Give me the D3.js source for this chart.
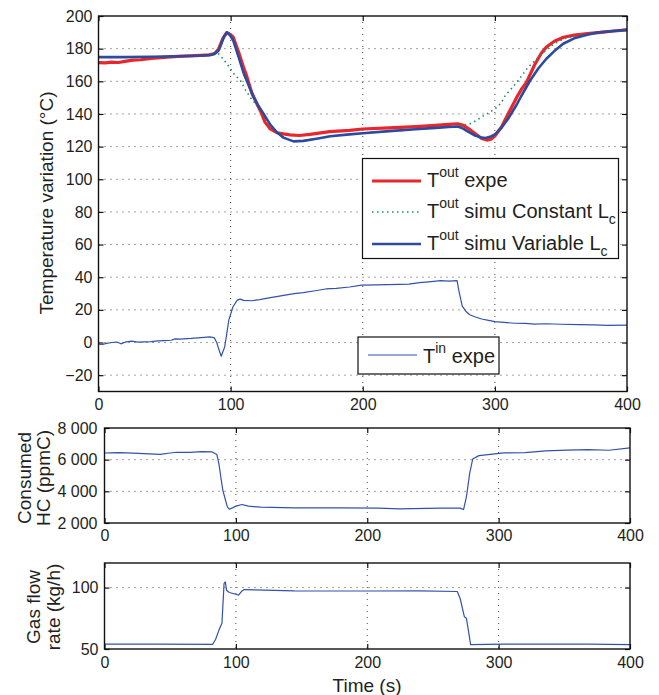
<!DOCTYPE html>
<html lang="en">
<head>
<meta charset="UTF-8">
<title>Temperature, consumed HC and gas flow</title>
<script src="https://d3js.org/d3.v7.min.js"></script>
<style>
  body { margin: 0; background: #fff; }
  svg text { font-family: "Liberation Sans", Arial, Helvetica, sans-serif; fill: #231f20; }
  .axis text { font-size: 16px; }
  .axis line { stroke: #111; stroke-width: 1.2; }
  .axis path { display: none; }
  .grid line { stroke: #444; stroke-width: 1; stroke-dasharray: 1,5; }
  .label { font-size: 19px; }
  .legtext { font-size: 20px; }
</style>
</head>
<body>
<div id="chart"></div>
<script>
// ---- data: [time (s), value] ----
const timeTicks = [0, 100, 200, 300, 400];
const tempTicks = [-20, 0, 20, 40, 60, 80, 100, 120, 140, 160, 180, 200];
const hcTicks = [2000, 4000, 6000, 8000];
const flowTicks = [50, 100];

const toutExpe = [[0,171.5],[5,171.3],[10,171.8],[15,171.5],[20,172.2],[26,173],[32,173.2],[40,174],[52,174.8],[60,175.3],[70,175.6],[77,175.9],[84,176.2],[88,177],[91,180],[94,186],[97,189.8],[100,188.5],[102,187],[106,178],[110,168],[112,163.6],[116,153],[120,146],[122.5,142],[126,135],[130,130.8],[135,128.5],[140,127.8],[145,127.2],[152,126.8],[160,127.5],[175,129.2],[190,130],[200,130.8],[220,131.5],[240,132.3],[255,133],[265,133.6],[272,134],[276,133],[280,131],[285,128],[290,125],[294,124],[297,124.5],[300,126.5],[305,132],[310,140],[316.6,150.3],[320,155],[324,159.5],[330,170],[335,177],[339,181],[345,184.5],[352,187],[360,188.3],[370,189.2],[380,190],[390,190.8],[400,191.5]];

const toutConst = [[0,174.8],[20,174.8],[40,175],[60,175.3],[80,175.8],[86,176],[88,176.5],[90.7,177],[95,173],[99.8,167.8],[103,164],[107.4,160.5],[111,155],[115,150],[118,147],[121,144.5],[125,140],[130,133.5],[135,128.8],[140,125.5],[147.6,123.2],[155,123.5],[165,124.8],[175.4,126.3],[190,127.5],[200,128.2],[220,129.5],[240,130.6],[255,131.5],[265,132],[272,132.3],[276,133.2],[281.3,134],[286,136],[290,138.2],[295,140.5],[301.5,144],[305,147],[308,151.5],[312,155],[316.6,159.5],[320,163],[325,168.5],[331.7,173.8],[336,177],[340,180],[345,183],[352,186],[360,187.8],[370,189],[380,190],[390,190.8],[400,191.5]];

const toutVar = [[0,174.8],[20,174.8],[40,175],[60,175.3],[80,175.8],[86,176.3],[89,177.5],[91,179],[93,183],[95,187.5],[97.3,190],[99,189],[102,185],[106,175],[110,164.7],[117,151],[121,145],[125,140],[130,133.5],[135,128.8],[140,125.5],[147.6,123.2],[155,123.5],[165,124.8],[175.4,126.3],[190,127.5],[200,128.2],[220,129.5],[240,130.6],[255,131.5],[265,132],[272,132.3],[276,131],[280,129],[285,126.8],[290,125.5],[293,125.3],[297,126.2],[300,127.5],[305,131.5],[310,137],[316,145],[320,151],[326.7,160.5],[333,168],[339,173.8],[345,178.5],[351.7,183],[360,186.3],[370,188.5],[377,189.8],[390,190.8],[400,191.5]];

const tinExpe = [[0,-1],[3,-1.2],[6,-0.5],[10,0],[14,0.3],[17,-0.8],[20,0.2],[25,0.8],[30,0.3],[40,0.5],[45,1],[50,1.2],[55,1.4],[58,2.2],[62,2.1],[70,2.5],[75,2.9],[80,3.2],[84,3.5],[87.5,3],[89.5,0],[91,-4],[92.9,-8.4],[94,-6],[95.5,-2.7],[97,5],[98.6,13.7],[101.8,21.9],[105,26],[107.2,26.6],[109.8,25.8],[116,25.6],[122,26.3],[129,27.4],[138,28.6],[148,30],[155,30.6],[164,31.7],[172,32.8],[180,33.2],[190,34],[199,35.2],[210,35.3],[227.5,35.6],[235,35.8],[243,36.7],[250,37.2],[259,37.9],[265,37.6],[271.4,37.9],[272.7,32],[275.3,22.3],[278.4,18.8],[281,17],[284.8,15.8],[290,14.4],[294.3,13.7],[300,12.8],[307,12.3],[315,11.8],[323,11.7],[330,11.3],[339,11.5],[350,11.2],[364,11],[375,10.8],[385,10.5],[400,10.6]];

const consumedHC = [[0,6420],[10,6440],[17,6426],[30,6380],[42.5,6340],[50,6420],[55,6468],[65,6460],[74,6510],[82,6490],[85.5,6320],[87,5787],[90,4085],[93.5,3020],[95,2872],[97.4,2957],[100,3064],[104.7,3170],[109.5,3064],[119,3000],[144.6,2957],[180,2950],[208.5,2936],[224.4,2893],[256.3,2936],[270.7,2936],[273.3,2850],[275.5,3660],[278,5149],[280.3,6043],[285,6255],[304,6426],[320,6450],[336,6553],[352,6600],[368,6638],[384,6596],[400,6745]];

const gasFlow = [[0,54],[40,54],[82.4,53.8],[84.6,58],[87.2,65.6],[89.4,71],[91,103.2],[92,104.6],[92.9,97.8],[95,96],[100,94.6],[102,93.8],[104.7,97.3],[106.3,98.4],[144.6,97.3],[200,97.2],[240,97.3],[268.5,96.8],[270.7,91.1],[273.9,76.3],[275.5,75],[278.7,53.5],[304,54],[368,54],[400,53.5]];

const red = "#e8262b", blue = "#2c4a9e", green = "#22896a", thinBlue = "#3451aa";

const W = 659, H = 695;
const svg = d3.select("#chart").append("svg").attr("width", W).attr("height", H);
svg.append("rect").attr("width", W).attr("height", H).attr("fill", "#fff");

function panel(id, box, yDomain, yTicks, yFmt, yPad, xPad) {
  const x = d3.scaleLinear().domain([0, 400]).range([box.l, box.r]);
  const y = d3.scaleLinear().domain(yDomain).range([box.b, box.t]);
  const g = svg.append("g");

  g.append("clipPath").attr("id", id).append("rect")
    .attr("x", box.l).attr("y", box.t).attr("width", box.r - box.l).attr("height", box.b - box.t);

  // dotted grid
  const grid = g.append("g").attr("class", "grid");
  grid.selectAll(".gx").data(timeTicks.filter(d => d > 0 && d < 400)).join("line")
    .attr("class", "gx")
    .attr("x1", d => x(d)).attr("x2", d => x(d)).attr("y1", box.t).attr("y2", box.b);
  grid.selectAll(".gy").data(yTicks.filter(d => d > yDomain[0] && d < yDomain[1])).join("line")
    .attr("class", "gy")
    .attr("x1", box.l).attr("x2", box.r).attr("y1", d => y(d)).attr("y2", d => y(d));

  // axes, ticks inward on all four sides
  g.append("g").attr("class", "axis").attr("transform", `translate(0,${box.b})`)
    .call(d3.axisBottom(x).tickValues(timeTicks).tickSize(-5).tickPadding(xPad));
  g.append("g").attr("class", "axis").attr("transform", `translate(0,${box.t})`)
    .call(d3.axisTop(x).tickValues(timeTicks).tickSize(-5).tickFormat(""));
  g.append("g").attr("class", "axis").attr("transform", `translate(${box.l},0)`)
    .call(d3.axisLeft(y).tickValues(yTicks).tickSize(-5).tickPadding(yPad).tickFormat(yFmt));
  g.append("g").attr("class", "axis").attr("transform", `translate(${box.r},0)`)
    .call(d3.axisRight(y).tickValues(yTicks).tickSize(-5).tickFormat(""));

  const plot = g.append("g").attr("clip-path", `url(#${id})`);
  g.append("rect").attr("x", box.l).attr("y", box.t)
    .attr("width", box.r - box.l).attr("height", box.b - box.t)
    .attr("fill", "none").attr("stroke", "#111").attr("stroke-width", 1.4);

  const line = d3.line().x(d => x(d[0])).y(d => y(d[1]));
  return { x, y, g, plot, line };
}

function drawLine(p, data, color, width, dash) {
  p.plot.append("path").datum(data)
    .attr("d", p.line)
    .attr("fill", "none")
    .attr("stroke", color)
    .attr("stroke-width", width)
    .attr("stroke-linejoin", "round")
    .attr("stroke-dasharray", dash || null);
}

// ---- top panel: temperatures ----
const tempPanel = panel("clipTop", { l: 98.5, r: 627, t: 16, b: 391.5 }, [-30, 200], tempTicks, d3.format("d"), 6, 7);
drawLine(tempPanel, tinExpe, thinBlue, 1.2);
drawLine(tempPanel, toutExpe, red, 3.2);
drawLine(tempPanel, toutConst, green, 1.6, "1.5,3.5");
drawLine(tempPanel, toutVar, blue, 2.6);

svg.append("text").attr("class", "label")
  .attr("transform", "translate(53,203) rotate(-90)")
  .attr("text-anchor", "middle")
  .text("Temperature variation (°C)");

// legend 1
const leg = svg.append("g");
leg.append("rect").attr("x", 362.5).attr("y", 158.5).attr("width", 256).attr("height", 100)
  .attr("fill", "#fff").attr("stroke", "#111").attr("stroke-width", 1.2);
const legItems = [
  { color: red, w: 3.2, dash: null, y: 181, main: " expe", sub: "" },
  { color: green, w: 1.6, dash: "1.5,3.5", y: 212, main: " simu Constant L", sub: "c" },
  { color: blue, w: 2.6, dash: null, y: 244, main: " simu Variable L", sub: "c" }
];
legItems.forEach(it => {
  leg.append("line").attr("x1", 372).attr("x2", 421).attr("y1", it.y).attr("y2", it.y)
    .attr("stroke", it.color).attr("stroke-width", it.w).attr("stroke-dasharray", it.dash);
  const t = leg.append("text").attr("class", "legtext").attr("x", 427).attr("y", it.y + 6);
  t.append("tspan").text("T");
  t.append("tspan").attr("dy", -10).attr("font-size", 14).text("out");
  t.append("tspan").attr("dy", 10).text(it.main);
  if (it.sub) t.append("tspan").attr("dy", 6).attr("font-size", 14).text(it.sub);
});

// legend 2
const leg2 = svg.append("g");
leg2.append("rect").attr("x", 358).attr("y", 337).attr("width", 141).attr("height", 37)
  .attr("fill", "#fff").attr("stroke", "#111").attr("stroke-width", 1.2);
leg2.append("line").attr("x1", 368).attr("x2", 417).attr("y1", 355).attr("y2", 355)
  .attr("stroke", thinBlue).attr("stroke-width", 1.2);
const t2 = leg2.append("text").attr("class", "legtext").attr("x", 423).attr("y", 363);
t2.append("tspan").text("T");
t2.append("tspan").attr("dy", -10).attr("font-size", 14).text("in");
t2.append("tspan").attr("dy", 10).text(" expe");

// ---- middle panel: consumed HC ----
const hcFmt = d => d3.format(",")(d).replace(",", " ");
const hcPanel = panel("clipMid", { l: 104.5, r: 630, t: 428, b: 523 }, [2000, 8000], hcTicks, hcFmt, 7, 7);
drawLine(hcPanel, consumedHC, thinBlue, 1.2);
svg.append("text").attr("class", "label").attr("transform", "translate(31,478) rotate(-90)")
  .attr("text-anchor", "middle").text("Consumed");
svg.append("text").attr("class", "label").attr("transform", "translate(50,478) rotate(-90)")
  .attr("text-anchor", "middle").text("HC (ppmC)");

// ---- bottom panel: gas flow ----
const flowPanel = panel("clipBot", { l: 104.5, r: 630, t: 563, b: 649 }, [50, 120], flowTicks, d3.format("d"), 6, 8);
drawLine(flowPanel, gasFlow, thinBlue, 1.2);
svg.append("text").attr("class", "label").attr("transform", "translate(40,607) rotate(-90)")
  .attr("text-anchor", "middle").text("Gas flow");
svg.append("text").attr("class", "label").attr("transform", "translate(60,607) rotate(-90)")
  .attr("text-anchor", "middle").text("rate (kg/h)");

svg.append("text").attr("class", "label").attr("x", 367).attr("y", 692)
  .attr("text-anchor", "middle").text("Time (s)");
</script>
</body>
</html>
